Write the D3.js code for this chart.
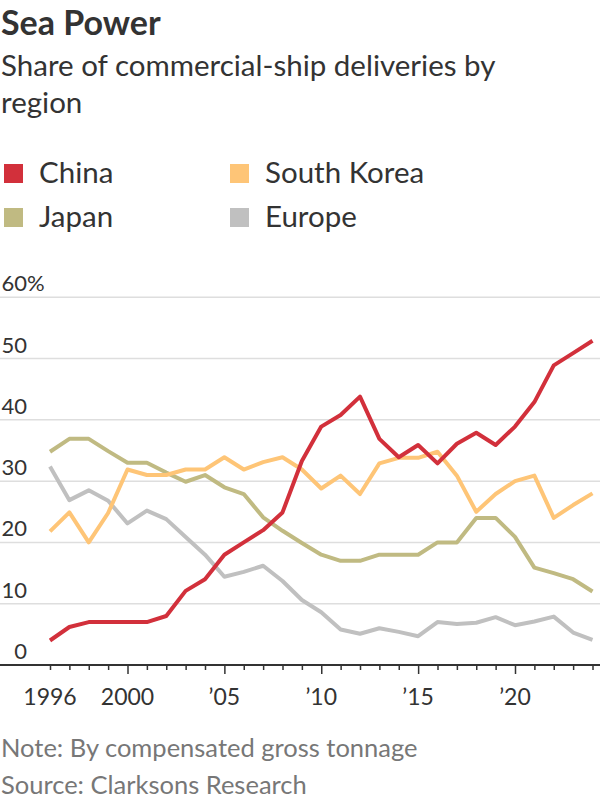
<!DOCTYPE html>
<html>
<head>
<meta charset="utf-8">
<script src="https://cdn.jsdelivr.net/npm/d3@7"></script>
<style>
  body { margin: 0; background: #fff; }
  svg { display: block; font-family: Lato, "Noto Sans", sans-serif; }
</style>
</head>
<body>
<svg id="chart" width="600" height="800"></svg>
<script>
// years on the x axis
var years = d3.range(1996, 2025)

// share of deliveries, percent
var china = [4.0, 6.2, 7.0, 7.0, 7.0, 7.0, 8.0, 12.1, 14.0, 18.0, 20.0, 22.0, 24.9, 33.3,
    38.9, 40.8, 43.8, 36.9, 33.9, 35.9, 32.9, 36.1, 37.9, 35.9, 38.9, 42.9, 48.9, 50.9, 52.9]
var southKorea = [21.8, 24.9, 20.0, 24.8, 31.9, 31.0, 31.0, 31.9, 31.9, 33.9, 31.9, 33.1, 33.9, 31.9,
    28.8, 30.9, 27.9, 32.9, 33.8, 33.8, 34.8, 30.9, 25.0, 27.9, 30.0, 30.9, 24.0, 26.1, 28.0]
var japan = [34.8, 36.9, 36.9, 34.9, 33.0, 33.0, 31.4, 29.9, 31.0, 29.0, 27.9, 24.1, 21.9, 19.9,
    18.0, 17.0, 17.0, 18.0, 18.0, 18.0, 20.0, 20.0, 24.0, 24.0, 20.9, 15.9, 15.0, 14.0, 12.0]
var europe = [32.4, 26.9, 28.5, 26.8, 23.1, 25.2, 23.8, 20.9, 18.0, 14.4, 15.2, 16.2, 13.7, 10.6,
    8.6, 5.8, 5.1, 6.0, 5.4, 4.7, 7.0, 6.7, 6.9, 7.8, 6.5, 7.1, 7.9, 5.3, 4.1]

var seriesNames = ["China", "South Korea", "Japan", "Europe"]
var seriesColors = ["#d2303b", "#fec577", "#c0ba82", "#c0c0c0"]

var yTicks = [0, 10, 20, 30, 40, 50, 60]
var xMajor = [1996, 2000, 2005, 2010, 2015, 2020]
var xLabel = y => y == 1996 || y == 2000 ? String(y) : "\u2019" + String(y).slice(2)

var svg = d3.select("#chart")
var ink = "#333"

var x = d3.scaleLinear().domain([1996, 2024]).range([50, 592.5])
var y = d3.scaleLinear().domain([0, 60]).range([665, 297.3])

// header
svg.append("text").attr("x", 1).attr("y", 35)
    .attr("font-size", 34).attr("font-weight", 700).attr("fill", ink)
    .text("Sea Power")

svg.append("text").attr("x", 1).attr("y", 76)
    .attr("font-size", 29.5).attr("fill", ink)
    .text("Share of commercial-ship deliveries by")
svg.append("text").attr("x", 1).attr("y", 113)
    .attr("font-size", 29.5).attr("fill", ink)
    .text("region")

// legend, two columns
var legend = svg.append("g")
    .selectAll("g").data(seriesNames).enter()
    .append("g")
    .attr("transform", (d, i) => `translate(${i % 2 ? 230 : 4},${i < 2 ? 164 : 208})`)
legend.append("rect")
    .attr("width", 19).attr("height", 19)
    .attr("fill", (d, i) => seriesColors[i])
legend.append("text")
    .attr("x", 35).attr("y", 19)
    .attr("font-size", 29.5).attr("fill", ink)
    .text(d => d)

// grid + y labels
svg.append("g").selectAll("line").data(yTicks.filter(t => t > 0)).enter()
    .append("line")
    .attr("x1", 0).attr("x2", 600)
    .attr("y1", d => y(d)).attr("y2", d => y(d))
    .attr("stroke", "#dedede").attr("stroke-width", 1.5)

svg.append("g").selectAll("text").data(yTicks).enter()
    .append("text")
    .attr("x", 27).attr("y", d => y(d) - 6)
    .attr("text-anchor", "end")
    .attr("font-size", 22).attr("fill", ink)
    .text(d => d)
svg.append("text")
    .attr("x", 27).attr("y", y(60) - 6)
    .attr("font-size", 22).attr("fill", ink)
    .text("%")

// x axis
var xAxis = d3.axisBottom(x)
    .tickValues(years)
    .tickSize(5)
    .tickFormat("")
var gx = svg.append("g").attr("transform", `translate(0,${y(0)})`).call(xAxis)
gx.select(".domain").remove()
gx.selectAll(".tick line")
    .attr("stroke", ink).attr("stroke-width", 1.5)
    .attr("y2", d => xMajor.includes(d) && d != 1996 ? 9 : 5)
gx.append("line")
    .attr("x1", 0).attr("x2", 600)
    .attr("stroke", ink).attr("stroke-width", 2)

svg.append("g").selectAll("text").data(xMajor).enter()
    .append("text")
    .attr("x", d => x(d)).attr("y", 705)
    .attr("text-anchor", "middle")
    .attr("font-size", 23).attr("fill", ink)
    .text(xLabel)

// lines, back to front
var line = d3.line()
    .x((d, i) => x(years[i]))
    .y(d => y(d))

var stack = [europe, japan, southKorea, china]
var stackColors = [seriesColors[3], seriesColors[2], seriesColors[1], seriesColors[0]]

svg.append("g").selectAll("path").data(stack).enter()
    .append("path")
    .attr("d", line)
    .attr("fill", "none")
    .attr("stroke", (d, i) => stackColors[i])
    .attr("stroke-width", 4)
    .attr("stroke-linejoin", "round")

// footnotes
svg.append("text").attr("x", 1).attr("y", 757)
    .attr("font-size", 25.5).attr("fill", "#777")
    .text("Note: By compensated gross tonnage")
svg.append("text").attr("x", 1).attr("y", 794)
    .attr("font-size", 25.5).attr("fill", "#777")
    .text("Source: Clarksons Research")
</script>
</body>
</html>
